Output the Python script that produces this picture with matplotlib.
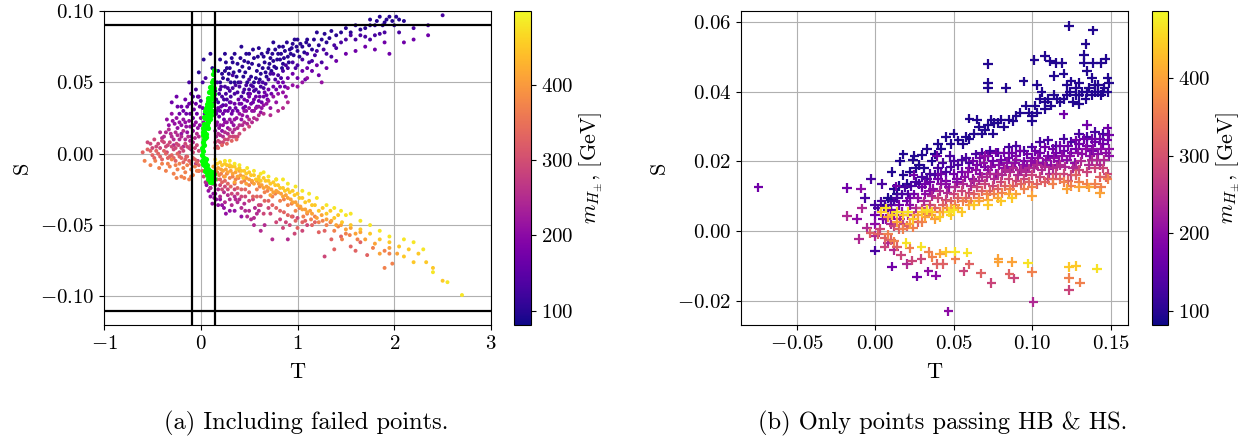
import numpy as np
import matplotlib
matplotlib.use("Agg")
import matplotlib.pyplot as plt

plt.rcParams['font.family'] = ['cmr10', 'DejaVu Sans']
plt.rcParams['mathtext.fontset'] = 'cm'
plt.rcParams['axes.formatter.use_mathtext'] = True
plt.rcParams['axes.unicode_minus'] = True
plt.rcParams['font.size'] = 15

left_m100 = [(-.02,.057),(.03,.066),(.12,.06),(.1,.07),(.2,.066),(.25,.07),(.3,.06),(.35,.07),(.35,.05),(.4,.058),(.42,.075),
    (.45,.065),(.5,.06),(.5,.07),(.55,.05),(.55,.067),(.6,.062),(.6,.074),(.65,.068),(.7,.06),(.7,.073),(.75,.065),(.75,.078),
    (.8,.07),(.85,.075),(.85,.063),(.9,.068),(.95,.077),(1.0,.072),(1.0,.08),(1.05,.075),(1.1,.08),(1.15,.073),(1.2,.085),
    (1.25,.08),(1.3,.078),(1.35,.086),(1.4,.083),(1.5,.088),(1.55,.085),(1.6,.09),(1.65,.087),(1.7,.088),(1.75,.094),(1.8,.09),
    (1.85,.096),(1.9,.092),(1.95,.096),(2.0,.09),(2.05,.094),(2.1,.093),(.22,.056),(.28,.052),(.33,.064),(.44,.054),(.48,.05),
    (.62,.056),(.68,.054),(.78,.06),(.82,.066),(.72,.067),(.58,.058),(.38,.063),(.27,.06),(.18,.058),(.92,.073),(1.02,.068),
    (.2,.05),(.23,.053),(.25,.058),(.26,.064),(.29,.056),(.31,.05),(.32,.067),(.34,.057),(.37,.054),(.39,.05),(.41,.067),(.43,.061),
    (.46,.057),(.47,.07),(.49,.064),(.52,.054),(.53,.063),(.54,.073),(.57,.053),(.59,.068),(.61,.052),(.63,.07),(.64,.06),(.66,.064),
    (.67,.057),(.69,.071),(.71,.063),(.73,.058),(.74,.07),(.76,.061),(.77,.073),(.79,.066),(.81,.075),(.83,.07),(.84,.06),(.86,.067),
    (.87,.072),(.89,.078),(.91,.064),(.93,.07),(.94,.074),(.96,.069),(.97,.08),(.99,.075),(1.03,.077),(1.07,.071),(1.09,.078),(1.12,.076),
    (1.17,.08),(1.22,.076),(1.28,.084),(1.33,.081),(1.45,.085),(1.75,.09),(1.82,.093),(1.88,.09),(1.92,.094),(2.02,.096),(1.98,.093)]
left_m130 = [(-.12,.05),(-.05,.045),(.02,.05),(.05,.053),(.17,.05),(.2,.045),(.25,.047),(.3,.044),(.33,.055),(.4,.047),(.45,.045),
    (.5,.052),(.55,.044),(.6,.05),(.65,.046),(.7,.052),(.75,.056),(.8,.055),(.85,.058),(.9,.06),(.95,.064),(1.05,.066),(1.1,.07),
    (1.15,.065),(1.2,.072),(1.3,.07),(1.4,.074),(1.45,.078),(1.5,.08),(1.6,.08),(1.7,.082),(1.8,.083),(1.9,.085),(2.05,.085),
    (2.2,.088),(2.35,.09),(2.5,.097),(1.25,.064),(1.35,.068),(1.0,.062),(.22,.04),(.27,.038),(.35,.042),(.42,.04),(.5,.045),
    (.6,.043),(.15,.044),(.18,.036),(.23,.034),(.3,.036),
    (.16,.038),(.19,.042),(.21,.047),(.24,.038),(.26,.042),(.28,.046),(.31,.04),(.33,.046),(.36,.048),(.38,.043),(.41,.05),(.44,.043),
    (.47,.048),(.49,.042),(.52,.048),(.54,.047),(.57,.045),(.62,.047),(.64,.05),(.67,.049),(.72,.056),(.77,.052),(.83,.053),(.88,.062),
    (.98,.06),(1.12,.064),(1.18,.069),(1.27,.073),(1.38,.076),(1.55,.083),(1.65,.083),(1.75,.08),(1.85,.084),(-.03,.04),(0,.037),(-.08,.04)]
left_m170 = [(-.2,.033),(-.25,.04),(-.3,.036),(-.12,.035),(-.1,.042),(-.15,.028),(-.05,.035),(-.02,.04),(.02,.032),(.17,.03),(.2,.03),
    (.25,.03),(.3,.032),(.35,.035),(.4,.035),(.45,.038),(.5,.04),(.55,.038),(.6,.037),(.65,.04),(.7,.045),(.75,.047),(.8,.05),
    (.85,.05),(.9,.053),(.95,.056),(1.0,.053),(1.05,.058),(1.1,.06),(1.15,.058),(1.2,.062),(1.3,.06),(1.4,.065),(1.5,.07),
    (1.6,.072),(1.7,.075),(1.8,.073),(1.9,.078),(1.95,.07),(2.1,.078),(2.2,.08),(2.35,.083),(.13,.035),(-.22,.028),(-.08,.025),
    (.19,.026),(.24,.024),(.32,.028),(.38,.03),(.46,.033),(.52,.035),(.58,.033),(.68,.041),(1.08,.052),(1.22,.055),
    (.16,.028),(.18,.032),(.21,.033),(.23,.028),(.26,.034),(.28,.03),(.31,.036),(.33,.03),(.36,.032),(.39,.038),(.42,.035),(.44,.032),
    (.48,.037),(.51,.042),(.54,.036),(.57,.04),(.61,.04),(.63,.036),(.66,.043),(.69,.038),(.73,.042),(.78,.045),(.82,.047),(.87,.047),
    (-.18,.03),(-.14,.033),(-.11,.028),(-.07,.031),(-.04,.028),(-.01,.033),(.04,.028),(-.24,.033),(-.16,.038),(-.09,.036)]
left_m210 = [(-.35,.024),(-.3,.028),(-.27,.021),(-.22,.022),(-.18,.024),(-.15,.019),(-.12,.023),(-.08,.016),(-.05,.022),(0,.025),
    (.17,.022),(.2,.02),(.25,.022),(.3,.024),(.35,.024),(.4,.028),(.45,.03),(.5,.032),(.55,.03),(.6,.033),(.65,.034),(.7,.037),
    (.75,.04),(.8,.042),(.85,.043),(.9,.046),(.95,.048),(1.0,.047),(1.05,.05),(1.1,.053),(1.25,.05),(-.1,.012),(-.2,.014),
    (.15,.016),(.22,.016),(.28,.018),(.34,.02),(.42,.024),(.48,.026),(.62,.029),(.72,.032),(.78,.036),(.88,.04),
    (.1,-.03),(.12,-.035),(.15,-.028),(.18,-.036),(.2,-.032),(.08,-.026),(.35,-.04),(.42,-.044),
    (.16,.02),(.19,.018),(.23,.02),(.27,.022),(.32,.022),(.37,.025),(.43,.027),(.47,.03),(.53,.03),(.57,.032),(.63,.032),(.68,.035),
    (-.33,.02),(-.29,.023),(-.25,.025),(-.24,.018),(-.2,.02),(-.16,.022),(-.14,.015),(-.11,.019),(-.07,.02),(-.03,.018),(-.01,.02),
    (.03,.022),(.13,-.028),(.16,-.032),(.22,-.036),(.24,-.038),(.26,-.042),(.3,-.04),(.1,-.024),(.06,-.022),(.14,-.031)]
left_m250 = [(-.42,.015),(-.38,.012),(-.33,.017),(-.3,.012),(-.26,.015),(-.22,.01),(-.18,.016),(-.13,.012),(-.08,.008),(-.04,.014),
    (.16,.012),(.2,.013),(.25,.015),(.3,.017),(.35,.017),(.4,.02),(.45,.022),(.5,.024),(.55,.025),(.6,.027),(.65,.028),(.72,.027),
    (.8,.03),(.85,.032),(.9,.036),(.2,-.03),(.25,-.034),(.28,-.029),(.32,-.036),(.38,-.034),(.42,-.038),(.5,-.04),(.55,-.05),
    (.58,-.042),(.62,-.054),(.66,-.05),(.74,-.06),(.9,-.06),(.55,-.045),(.15,-.022),(.05,-.02),(.1,-.024),(-.02,-.012),(-.05,-.007),
    (-.1,.003),(-.18,.005),(-.28,.006),(.35,-.03),(.45,-.035),
    (-.4,.011),(-.36,.015),(-.31,.014),(-.28,.01),(-.24,.013),(-.2,.012),(-.16,.01),(-.11,.009),(-.06,.011),(-.02,.012),(.18,.014),(.23,.012),
    (.28,.014),(.33,.015),(.38,.018),(.43,.02),(.48,.021),(.53,.022),(.58,.024),(.24,-.027),(.3,-.032),(.36,-.032),(.4,-.032),(.46,-.04),
    (.48,-.044),(.52,-.046),(.56,-.038),(.6,-.04),(.18,-.025),(.12,-.021),(.08,-.02)]
left_m290 = [(-.55,.008),(-.5,.004),(-.48,.01),(-.44,.007),(-.4,.009),(-.36,.005),(-.32,.008),(-.28,.003),(-.25,.007),(-.2,.004),(-.16,.007),
    (-.12,.004),(-.08,.001),(-.04,.006),(.15,.008),(.2,.008),(.25,.01),(.3,.012),(.35,.012),(.4,.014),(.45,.017),(.5,.019),(.17,.005),
    (.22,-.025),(.28,-.025),(.35,-.025),(.42,-.03),(.5,-.033),(.6,-.036),(.65,-.042),(.7,-.038),(.78,-.048),(.85,-.052),(.92,-.05),
    (1.0,-.045),(.97,-.056),(1.05,-.054),(1.28,-.072),(.08,-.018),(.03,-.016),(-.03,-.005),(-.15,-.002),(-.22,.001),(-.35,.001),
    (-.52,.007),(-.46,.005),(-.42,.004),(-.38,.008),(-.34,.006),(-.3,.005),(-.26,.004),(-.23,.006),(-.18,.002),(-.14,.005),(-.1,.006),
    (-.06,.004),(-.02,.002),(.18,.009),(.23,.008),(.28,.01),(.33,.012),(.38,.012),(.2,-.022),(.25,-.023),(.32,-.028),(.38,-.028),
    (.46,-.03),(.54,-.032),(.62,-.036),(.72,-.042),(.82,-.046),(.88,-.048),(.95,-.044),(1.1,-.05)]
left_m330 = [(-.6,.001),(-.55,.003),(-.5,-.001),(-.46,.002),(-.42,-.002),(-.38,.002),(-.34,-.003),(-.3,-.001),(-.26,-.005),(-.22,-.002),
    (-.18,-.006),(-.14,-.002),(-.1,-.007),(-.06,-.004),(-.02,-.008),(.15,.004),(.18,.004),(.22,.006),(.27,.007),(.32,.009),(.37,.01),
    (.17,-.018),(.22,-.02),(.28,-.021),(.35,-.021),(.42,-.025),(.5,-.027),(.58,-.03),(.66,-.033),(.74,-.036),(.82,-.04),(.9,-.043),
    (.98,-.047),(1.05,-.048),(1.15,-.05),(1.22,-.055),(1.35,-.06),(1.38,-.067),(1.45,-.058),(1.55,-.065),(1.65,-.062),(1.72,-.071),
    (1.6,-.068),(1.0,-.052),(.07,-.014),(.02,-.012),
    (-.52,.002),(-.48,-.003),(-.44,.0),(-.4,-.004),(-.36,.0),(-.32,-.002),(-.28,-.003),(-.24,.0),(-.2,-.003),(-.16,-.004),(-.12,-.005),
    (-.08,-.003),(-.04,-.006),(.2,-.018),(.25,-.019),(.31,-.023),(.38,-.024),(.46,-.025),(.54,-.03),(.62,-.03),(.7,-.033),(.78,-.038),
    (.86,-.041),(.94,-.044),(1.08,-.047),(1.18,-.048),(1.28,-.054)]
left_m370 = [(-.58,-.005),(-.52,-.008),(-.47,-.005),(-.43,-.01),(-.4,-.007),(-.36,-.012),(-.32,-.009),(-.28,-.014),(-.24,-.011),(-.2,-.016),
    (-.16,-.013),(-.12,-.018),(-.08,-.015),(-.04,-.012),(.14,-.014),(.19,-.015),(.24,-.016),(.3,-.017),(.36,-.018),(.42,-.02),(.5,-.022),
    (.58,-.025),(.66,-.027),(.74,-.03),(.82,-.033),(.9,-.036),(.98,-.04),(1.06,-.044),(1.14,-.046),(1.22,-.048),(1.3,-.05),(1.38,-.054),
    (1.46,-.06),(1.54,-.057),(1.62,-.06),(1.78,-.066),(1.9,-.068),(1.95,-.07),(1.9,-.08),(1.98,-.077),(-.25,-.017),(-.3,-.004),
    (-.34,-.007),(-.26,-.008),(-.22,-.007),(-.18,-.01),(-.14,-.008),(-.1,-.011),(-.06,-.009),(-.02,-.012),(.17,-.013),(.21,-.014),(.27,-.014),
    (.33,-.016),(.39,-.017),(.45,-.019),(.53,-.02),(.61,-.023),(.69,-.026),(.77,-.028),(.86,-.032),(.94,-.035),(1.02,-.038),(1.1,-.042),
    (1.18,-.044),(1.26,-.047),(1.34,-.048),(1.42,-.051),(1.5,-.056),(-.1,-.016),(-.17,-.017)]
left_m410 = [(.13,-.009),(.18,-.01),(.23,-.012),(.28,-.013),(.33,-.014),(.38,-.016),(.44,-.016),(.5,-.018),(.55,-.021),(.6,-.021),(.65,-.024),
    (.7,-.024),(.75,-.027),(.8,-.027),(.85,-.03),(.9,-.031),(.95,-.034),(1.0,-.036),(1.05,-.039),(1.1,-.041),(1.15,-.042),(1.2,-.045),
    (1.3,-.046),(1.4,-.05),(1.5,-.053),(1.6,-.056),(1.7,-.06),(1.8,-.063),(1.95,-.066),(2.03,-.07),(1.85,-.07),(.4,-.012),(.3,-.009),
    (.25,-.016),(.35,-.02),(.47,-.021),(.72,-.029),
    (.16,-.011),(.21,-.011),(.26,-.011),(.31,-.012),(.36,-.013),(.41,-.015),(.47,-.017),(.53,-.019),(.58,-.019),(.63,-.022),(.68,-.023),
    (.73,-.025),(.78,-.026),(.83,-.028),(.88,-.029),(.93,-.032),(.98,-.034),(1.03,-.037),(1.08,-.039),(1.13,-.04),(1.25,-.043),(1.35,-.047),
    (1.45,-.05),(1.55,-.052),(1.65,-.055)]
left_m450 = [(.17,-.007),(.22,-.008),(.27,-.008),(.32,-.009),(.37,-.011),(.42,-.012),(.47,-.014),(.52,-.015),(.57,-.018),(.62,-.019),(.67,-.019),
    (.72,-.021),(.77,-.022),(.82,-.024),(.87,-.026),(.92,-.027),(.97,-.029),(1.02,-.031),(1.08,-.034),(1.15,-.036),(1.22,-.04),(1.3,-.042),
    (1.38,-.045),(1.46,-.048),(1.55,-.05),(1.65,-.053),(1.75,-.056),(1.85,-.06),(1.95,-.062),(2.05,-.065),(2.15,-.067),(2.1,-.072),(2.25,-.07),
    (2.33,-.076),(2.2,-.076),(2.4,-.08),(2.5,-.089),(.44,-.017),(.6,-.016),(.78,-.018),
    (.2,-.006),(.25,-.007),(.3,-.008),(.35,-.009),(.4,-.01),(.45,-.012),(.5,-.013),(.55,-.015),(.6,-.018),(.65,-.017),(.7,-.019),(.75,-.02),
    (.8,-.022),(.85,-.024),(.9,-.025),(.95,-.026),(1.0,-.028),(1.05,-.031),(1.12,-.033),(1.18,-.036),(1.26,-.038),(1.34,-.04),(1.42,-.043)]
left_m480 = [(.15,-.004),(.25,-.005),(.4,-.008),(.55,-.012),(.7,-.016),(.9,-.021),(1.05,-.026),(1.2,-.031),(1.3,-.036),(1.45,-.04),(1.55,-.042),
    (1.75,-.05),(1.95,-.058),(2.1,-.06),(2.2,-.062),(2.3,-.067),(2.4,-.083),(2.55,-.09),(2.7,-.099),(.85,-.018),(.65,-.013),
    (.3,-.005),(.35,-.007),(.48,-.01),(.62,-.014),(.78,-.018),(.98,-.023),(1.12,-.028),(1.38,-.038),(1.5,-.043),(1.65,-.047),(1.85,-.054)]
left_groups = [left_m100, left_m130, left_m170, left_m210, left_m250, left_m290, left_m330, left_m370, left_m410, left_m450, left_m480]
left_masses = [100, 130, 170, 210, 250, 290, 330, 370, 410, 450, 480]

#points that pass everything, drawn green on top
green_T = [.14,.13,.12,.14,.1,.12,.09,.11,.07,.09,.11,.06,.08,.1,.05,.07,.09,.04,.06,.08,.03,.05,.07,.03,.05,.02,.04,.02,.03,.01,.02,.01,.03,
           .01,.02,.03,.04,.05,.06,.07,.08,.09,.1,.11,.12,.13,.14,.06,.08,.1,.12,.04,.05,
           .13,.12,.14,.11,.13,.1,.12,.08,.1,.12,.06,.09,.11,.05,.08,.1,.04,.07,.03,.06,.02,.05,.03,.02,.12,.14,.1,.08,.06]
green_S = [.059,.052,.05,.046,.047,.042,.043,.039,.039,.036,.035,.033,.033,.031,.029,.028,.026,.025,.024,.022,.021,.019,.018,.016,.014,.013,.011,
           .008,.006,.004,.002,-.001,-.003,-.005,-.007,-.008,-.006,-.01,-.008,-.012,-.011,-.014,-.012,-.015,-.013,-.016,-.014,-.015,-.018,-.017,-.02,-.012,-.004,
           .056,.047,.042,.044,.038,.038,.034,.037,.034,.03,.035,.03,.027,.032,.028,.024,.03,.023,.026,.02,.018,.012,.01,.015,-.018,-.018,-.02,-.014,-.011]

#right panel, (T, S)
right_m95 = [(.1236,.0589),(.1386,.0576),(.134,.0538),(.0718,.0479),(.1014,.0492),(.1083,.0502),(.1115,.0487),(.115,.0483),(.119,.0482),(.133,.0505),
    (.133,.0484),(.139,.0482),(.144,.0482),(.1467,.0495),(.0718,.0425),(.0718,.041),(.0835,.041),(.0945,.043),(.103,.042),(.106,.04),(.114,.0445),(.12,.0452),
    (.125,.043),(.13,.0425),(.135,.046),(.138,.044),(.142,.042),(.148,.044),(.149,.0425),(.145,.04),(.14,.04),(.135,.04),(.128,.039),(.122,.039),(.118,.037),(.112,.036),
    (.108,.035),(.103,.034),(.105,.038),(.1,.033),(.096,.036),(.09,.033),(.085,.032),(.08,.032),(.076,.031),(.07,.029),(.075,.028),(.065,.032),(.06,.0323),
    (.063,.028),(.058,.027),(.053,.026),(.05,.028),(.045,.027),(.048,.025),(.042,.0235),(.038,.022),(.04,.025),(.033,.0235),(.03,.0218),(.025,.0215),(.028,.019),
    (.022,.017),(.024,.0205),(.018,.016),(.015,.013),(.012,.012),(.008,.0095),(.0105,.017),(.016,.02),(.018,.022),(.1,.0315),(.13,.0365),
    (.072,.0305),(.074,.032),(.078,.031),(.082,.03),(.088,.0315),(.092,.034),(.098,.034),(.102,.036),(.108,.037),(.11,.038),(.114,.039),(.116,.038),(.12,.038),
    (.124,.04),(.126,.037),(.13,.039),(.132,.04),(.134,.038),(.136,.041),(.138,.039),(.14,.042),(.142,.04),(.144,.039),(.146,.041),(.148,.04),(.122,.042),(.128,.041),
    (.066,.03),(.068,.028),(.056,.025),(.06,.0265),(.036,.02),(.031,.018),(.026,.018),(.02,.0135),(.014,.0105),(.01,.009),(.006,.0075)]
right_m130 = [(-.0028,.0149),(-.0066,.0095),(.0,.0075),(.004,.0085),(.008,.006),(.012,.0085),(.017,.0105),(.021,.0105),(.026,.014),(.03,.0155),(.035,.0165),
    (.04,.018),(.045,.017),(.05,.02),(.055,.0205),(.06,.0195),(.0,-.0056),(.0045,.0135),(.0475,.0215),(.064,.022),(.068,.0225),(.073,.023),(.078,.0225),(.085,.024),
    (.09,.0245),(.095,.023),(.1,.024),(.105,.0255),(.11,.026),(.115,.0245),(.12,.0265),(.125,.0255),(.13,.028),(.135,.027),(.14,.0285),(.145,.028),
    (.002,.0065),(.006,.007),(.01,.0075),(.014,.0095),(.019,.0125),(.023,.013),(.028,.0135),(.033,.015),(.038,.016),(.043,.0195),(.048,.0185),(.053,.019),(.058,.021)]
right_m170 = [(-.0743,.0125),(-.018,.0124),(.0106,-.0102),(.0267,-.0131),(.0,.0045),(.005,.0035),(.01,.006),(.015,.0075),(.02,.0085),(.025,.0105),(.03,.0125),
    (.035,.014),(.04,.015),(.045,.0145),(.05,.0165),(.055,.017),(.06,.018),(.065,.019),(.07,.0185),(.075,.02),(.08,.0205),(.085,.021),(.09,.0215),(.095,.02),(.1,.021),
    (.105,.0225),(.11,.0215),(.115,.0225),(.12,.023),(.125,.0225),(.13,.025),(.135,.0245),(.14,.0255),(.145,.025),(.149,.0275),(.148,.0262),(.0135,.0128),(.0245,.016),
    (.12,.0335),(.135,.0305),(.148,.0295),(.0395,.0215),
    (.062,.02),(.067,.021),(.072,.0215),(.077,.0225),(.082,.0225),(.087,.0225),(.092,.023),(.097,.022),(.102,.023),(.108,.024),(.113,.0235),(.118,.0245),(.123,.0245),
    (.128,.026),(.133,.0265),(.138,.0265),(.143,.0265),(.128,.0235),(.138,.023),(.052,.015),(.042,.0165),(.032,.0135),(.022,.0095)]
right_m200 = [(-.0091,.0122),(-.0115,.0035),(.0466,-.0231),(.0339,-.0116),(.0388,-.0128),(.0,.002),(.007,.0035),(.012,.0045),(.017,.0055),(.022,.0075),(.027,.0095),
    (.032,.0105),(.037,.012),(.042,.0135),(.047,.0125),(.052,.014),(.057,.0155),(.062,.015),(.067,.0165),(.072,.0175),(.077,.0165),(.082,.018),(.087,.0185),(.092,.0175),
    (.097,.0185),(.102,.0195),(.107,.0195),(.112,.019),(.117,.02),(.122,.0205),(.127,.0195),(.132,.022),(.137,.0215),(.142,.022),(.147,.0225),(.149,.0235),(.07,.0215),(.09,.0205),
    (.059,.017),(.064,.0175),(.069,.0195),(.074,.0185),(.079,.019),(.084,.0195),(.089,.0195),(.094,.019),(.099,.02),(.104,.021),(.109,.0205),(.114,.021),(.119,.0215),
    (.124,.0215),(.129,.0225),(.134,.0235),(.139,.0235),(.144,.0235),(.149,.0215),(.045,.0135),(.035,.0115)]
right_m240 = [(-.0178,.0043),(-.0082,.0065),(-.0102,-.0023),(.1008,-.0204),(.0202,-.0094),(.012,-.0055),(.008,-.0035),(.01,.002),(.016,.0035),(.021,.0045),(.026,.0065),
    (.031,.0085),(.036,.01),(.041,.0115),(.046,.011),(.051,.0125),(.056,.0135),(.061,.013),(.066,.0145),(.071,.0155),(.076,.015),(.081,.016),(.086,.017),(.091,.016),
    (.096,.017),(.101,.018),(.106,.0175),(.111,.0165),(.116,.0185),(.121,.0185),(.126,.018),(.131,.02),(.136,.019),(.141,.0205),(.146,.0205),(.0,-.0015),(-.005,.001),
    (.063,.0145),(.068,.0155),(.073,.0165),(.078,.0165),(.083,.0175),(.088,.018),(.093,.0175),(.098,.018),(.103,.019),(.108,.0185),(.113,.018),(.118,.019),(.128,.0185),(.138,.0205),(.143,.019)]
right_m280 = [(.1233,-.017),(.074,-.015),(.0885,-.0136),(.0563,-.0116),(.0234,-.0085),(.0295,-.0081),(.0165,-.007),(.006,-.0045),(.003,.0005),(.012,.0015),(.018,.002),
    (.025,.0045),(.03,.0065),(.035,.0075),(.04,.0095),(.045,.009),(.05,.0105),(.055,.0115),(.06,.011),(.065,.0125),(.07,.0135),(.075,.013),(.08,.014),(.085,.015),(.09,.0145),
    (.095,.015),(.1,.016),(.105,.0155),(.11,.015),(.115,.0165),(.12,.0165),(.125,.016),(.13,.0175),(.135,.017),(.14,.018),(.145,.018),(.148,.0165)]
right_m320 = [(.0855,-.0124),(.0675,-.0122),(.0393,-.0094),(.0435,-.0095),(.06,-.0096),(.002,-.001),(.006,-.002),(.01,-.0025),(.014,-.0045),(.015,.0005),(.02,.0015),(.027,.0025),
    (.033,.005),(.038,.0065),(.043,.0075),(.048,.0085),(.053,.0095),(.058,.0095),(.063,.0105),(.068,.0115),(.073,.0115),(.078,.012),(.083,.013),(.088,.013),(.093,.0135),
    (.098,.014),(.103,.0135),(.108,.014),(.113,.015),(.118,.015),(.123,.0145),(.128,.016),(.143,.0155),(.147,.0155),(-.003,-.0005)]
right_m360 = [(.1306,-.0148),(.1233,-.0135),(.1,-.0117),(.0511,-.0081),(.0365,-.0075),(.022,-.005),(.034,-.006),(.012,-.003),(.008,-.001),(.018,.0005),(.024,.001),(.03,.0025),
    (.036,.0045),(.041,.0055),(.046,.0065),(.051,.0075),(.056,.0085),(.061,.0085),(.066,.0095),(.071,.0105),(.076,.0105),(.081,.011),(.086,.012),(.095,.012),(.1,.0125),
    (.113,.0135),(.12,.014),(.125,.013),(.13,.014),(.135,.0135),(.14,.0135),(.144,.0125),(.148,.015)]
right_m400 = [(.0785,-.0081),(.0785,-.009),(.087,-.0089),(.0413,-.0065),(.008,.004),(.014,.0025),(.022,.002),(.027,.0045),(.032,.004),(.038,.0035),(.043,.0055),(.048,.0065),
    (.053,.0065),(.06,.0075),(.066,.0085),(.072,.009),(.078,.0095),(.085,.0105),(.09,.0105),(.1,.01),(.122,.012),(.13,.0125),(.136,.0125),(.143,.011)]
right_m440 = [(.1233,-.0104),(.1278,-.01),(.045,-.006),(.004,.0055),(.011,.0045),(.018,.0045),(.024,.0035),(.03,.0055),(.036,.0055),(.041,.004),(.048,.0045),(.055,.0055),
    (.063,.0075),(.072,.0075),(.08,.0085),(.087,.0095)]
right_m465 = [(.1414,-.0108),(.0975,-.0093),(.0587,-.0062),(.0511,-.0059),(.0295,-.0045),(.0199,-.0035),(.007,.0065),(.014,.0055),(.021,.0055),(.033,.006),(.047,.0055),(.05,.006)]
right_groups = [right_m95, right_m130, right_m170, right_m200, right_m240, right_m280, right_m320, right_m360, right_m400, right_m440, right_m465]
right_masses = [95, 130, 170, 200, 240, 280, 320, 360, 400, 440, 465]

left_xticks = [-1, 0, 1, 2, 3]
left_yticks = [-0.10, -0.05, 0.00, 0.05, 0.10]
right_xticks = [-0.05, 0.00, 0.05, 0.10, 0.15]
right_yticks = [-0.02, 0.00, 0.02, 0.04, 0.06]
cbar_ticks = [100, 200, 300, 400]


def flatten(groups, masses):
    T, S, m = [], [], []
    for pts, mass in zip(groups, masses):
        for p in pts:
            T.append(p[0])
            S.append(p[1])
            m.append(mass)
    return T, S, m


W, H = 1246, 443
fig = plt.figure(figsize=(W/100, H/100), dpi=100)


def box(x0, x1, y0, y1):
    return [x0/W, 1 - y1/H, (x1-x0)/W, (y1-y0)/H]


#left
ax1 = fig.add_axes(box(104, 491, 11, 325))
T, S, m = flatten(left_groups, left_masses)
sc1 = ax1.scatter(T, S, c=m, cmap='plasma', vmin=81, vmax=498, s=8, linewidths=0, zorder=2)
ax1.scatter(green_T, green_S, color=(0, 1, 0), s=14, linewidths=0, zorder=3)
ax1.axhline(0.09, color='k', lw=1.6, zorder=4)
ax1.axhline(-0.11, color='k', lw=1.6, zorder=4)
ax1.axvline(-0.09, color='k', lw=1.6, zorder=4)
ax1.axvline(0.15, color='k', lw=1.6, zorder=4)
ax1.set_xlim(-1, 3)
ax1.set_ylim(-0.12, 0.10)
ax1.set_xticks(left_xticks)
ax1.set_yticks(left_yticks)
ax1.set_yticklabels(['$-0.10$', '$-0.05$', '$0.00$', '$0.05$', '$0.10$'])
ax1.set_xticklabels(['$-1$', '$0$', '$1$', '$2$', '$3$'])
ax1.grid(True, zorder=0)
ax1.set_axisbelow(True)
ax1.set_xlabel('T', fontsize=16, labelpad=7)
ax1.set_ylabel('S', fontsize=16, labelpad=6)

cax1 = fig.add_axes(box(514, 531, 11, 325))
cb1 = fig.colorbar(sc1, cax=cax1)
cb1.set_ticks(cbar_ticks)
cb1.set_ticklabels(['$100$', '$200$', '$300$', '$400$'])
cb1.set_label(r'$m_{H_{\pm}}$, [GeV]', fontsize=16, labelpad=3)

#right
ax2 = fig.add_axes(box(741, 1128, 11, 325))
T, S, m = flatten(right_groups, right_masses)
sc2 = ax2.scatter(T, S, c=m, cmap='plasma', vmin=82, vmax=486, s=48, marker='+', linewidths=1.6, zorder=2)
ax2.set_xlim(-0.0854, 0.161)
ax2.set_ylim(-0.027, 0.0632)
ax2.set_xticks(right_xticks)
ax2.set_yticks(right_yticks)
ax2.set_xticklabels(['$-0.05$', '$0.00$', '$0.05$', '$0.10$', '$0.15$'])
ax2.set_yticklabels(['$-0.02$', '$0.00$', '$0.02$', '$0.04$', '$0.06$'])
ax2.grid(True, zorder=0)
ax2.set_axisbelow(True)
ax2.set_xlabel('T', fontsize=16, labelpad=7)
ax2.set_ylabel('S', fontsize=16, labelpad=6)

cax2 = fig.add_axes(box(1152, 1168, 11, 325))
cb2 = fig.colorbar(sc2, cax=cax2)
cb2.set_ticks(cbar_ticks)
cb2.set_ticklabels(['$100$', '$200$', '$300$', '$400$'])
cb2.set_label(r'$m_{H_{\pm}}$, [GeV]', fontsize=16, labelpad=3)

#captions
fig.text(306/W, 1 - 423/H, '(a) Including failed points.', ha='center', va='center', fontsize=17.6)
fig.text(943/W, 1 - 423/H, '(b) Only points passing HB & HS.', ha='center', va='center', fontsize=17.6)

fig.savefig('out.png', dpi=100)
